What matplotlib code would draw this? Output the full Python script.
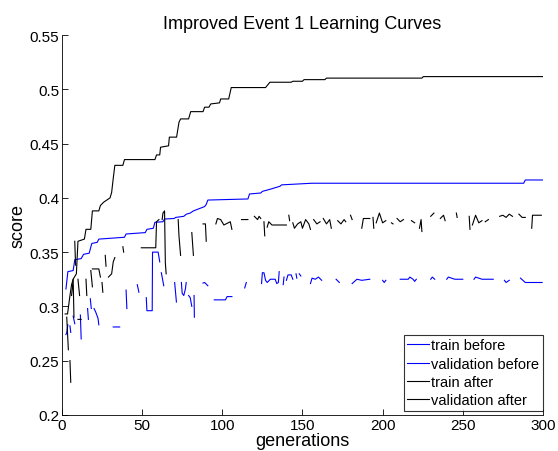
import numpy as np
import matplotlib
matplotlib.use("Agg")
import matplotlib.pyplot as plt

plt.rcParams["font.family"] = ["Liberation Sans", "DejaVu Sans"]
plt.rcParams["font.size"] = 10

# train before (blue, solid) - breakpoints (generation, score)
tb_gen = [2.5, 3.7, 7, 8, 12, 13.5, 17, 18.6, 22, 23, 39, 40, 52, 53, 57, 58,
          63, 64, 70, 71, 76, 77.6, 80, 82, 89, 90, 91, 116, 117, 124, 125,
          129, 130, 136, 137, 156, 157, 288, 289, 300]
tb_score = [0.316, 0.332, 0.333, 0.343, 0.344, 0.348, 0.349, 0.358, 0.359, 0.362,
            0.3637, 0.3667, 0.368, 0.371, 0.372, 0.3775, 0.378, 0.3805, 0.381,
            0.382, 0.383, 0.385, 0.386, 0.388, 0.392, 0.394, 0.398, 0.399,
            0.4036, 0.4045, 0.406, 0.4076, 0.408, 0.4107, 0.412, 0.4135, 0.4135,
            0.4135, 0.4165, 0.4165]

# validation before (blue, broken line, None = missing)
vb_gen = [2.5, 3, 3.7, None, 5, 5.5, None, 7, 8, None, 11.5, 12, None,
          16, 16.5, None, 17.7, 18.3, None, 20, 21, 22.5, 23, None, 32, 36, None,
          40, 40.5, None, 47, 48, None,
          52.6, 53, 56.3, 56.5, 60, 61, None, 62, 63.5, None, 70.3, 71.4, None,
          74.5, 75, 76, 77, 77.5, None, 79, 80, 81, None, 82.4, 82.6, None,
          88, 89, 91, None, 95, 102, 103, 106, None, 114, 115, None,
          124.5, 125, 126, 127, 128, 130, 133, 134, 135, 135.5, None,
          138, 138.5, None, 140, 141, 143, 144, None, 146, 146.5, None, 148, 149, None,
          155, 156, 158, 160, 162, None, 171, 173, None,
          181, 184, 187, 192, None, 200, 201, 202, None,
          211, 216, 217, 219, 220, 221, None, 230, 231, 232.5, None,
          240, 241, 243, 245, 250, None, 257, 258, 260, 262, 269, None,
          276, 277, 279, None, 286, 289, 299.5]
vb_score = [0.274, 0.276, 0.283, None, 0.282, 0.276, None, 0.291, 0.284, None, 0.292, 0.27, None,
            0.298, 0.288, None, 0.307, 0.298, None, 0.298, 0.295, 0.289, 0.283, None, 0.281, 0.281, None,
            0.315, 0.298, None, 0.32, 0.313, None,
            0.308, 0.296, 0.296, 0.35, 0.35, 0.341, None, 0.331, 0.319, None, 0.322, 0.304, None,
            0.322, 0.312, 0.31, 0.316, 0.322, None, 0.31, 0.308, 0.30, None, 0.31, 0.29, None,
            0.3215, 0.322, 0.319, None, 0.306, 0.306, 0.309, 0.309, None, 0.317, 0.322, None,
            0.321, 0.331, 0.331, 0.324, 0.322, 0.325, 0.325, 0.321, 0.322, 0.332, None,
            0.32, 0.327, None, 0.324, 0.329, 0.329, 0.325, None, 0.330, 0.326, None, 0.330, 0.328, None,
            0.321, 0.326, 0.325, 0.327, 0.324, None, 0.325, 0.322, None,
            0.321, 0.325, 0.324, 0.325, None, 0.324, 0.322, 0.324, None,
            0.325, 0.325, 0.327, 0.325, 0.323, 0.325, None, 0.325, 0.327, 0.325, None,
            0.325, 0.327, 0.326, 0.325, 0.325, None, 0.325, 0.327, 0.326, 0.325, 0.325, None,
            0.324, 0.322, 0.324, None, 0.326, 0.322, 0.322]

# train after (black, solid)
ta_gen = [2, 3.5, 5, 6, 7, 9, 10, 14, 15, 18, 19, 23, 24, 26, 28, 30, 31, 32,
          33, 38, 39, 58, 59, 61, 61.5, 66.5, 67, 71.5, 73, 74, 79, 80.3, 88,
          89, 91.7, 92.8, 98.3, 99, 104, 105.6, 127, 129.7, 143, 144, 150, 151,
          164, 165, 224.5, 225.4, 300]
ta_score = [0.293, 0.293, 0.31, 0.32, 0.325, 0.33, 0.36, 0.362, 0.371, 0.371,
            0.388, 0.388, 0.393, 0.396, 0.398, 0.40, 0.405, 0.418, 0.43, 0.43,
            0.4353, 0.4353, 0.4396, 0.4396, 0.4467, 0.448, 0.456, 0.456, 0.4697,
            0.4728, 0.4728, 0.4795, 0.4795, 0.4836, 0.4836, 0.4866, 0.4876,
            0.4912, 0.4912, 0.5017, 0.5017, 0.5066, 0.5066, 0.5075, 0.5075,
            0.509, 0.509, 0.5104, 0.5104, 0.5118, 0.5118]

# validation after (black, broken line)
va_gen = [3, 4, None, 5, 5.5, None, 6, 7, 7.5, None, 8, 8.5, None, 10, 11, None,
          10, 12, None, 15, 15.5, None, 18, 19, None, 19, 23, 24, None, 25, 25.5, None,
          27, 27.5, None, 29, 31, 32, 33, None, 38, 38.5, None,
          49.5, 58.5, 59, 60.5, None, 62.5, 63, 64, 64.5, 65, None,
          72.5, 73, 74, None, 81, 82, None, 88, 89.5, 90, None,
          96, 97, 99, 101, 105, 106, None, 112, 116, None, 120, 122, 123, 124, None,
          126, 126.5, None, 128, 129, 131, 140, None, 141.5, 142, None,
          144, 145, 147, 149, 150, 152, 154, 155, None, 157, 159, 161, None,
          163, 165, 167, 168, None, 172, 174, 176, 177, None, 180, 181, None,
          187, 188, 192, None, 194, 194.5, None, 196, 198, 200, 202, None,
          205.5, 206.5, None, 209, 211, 213, None, 218, 220, None, 223, 224, 224.5, None,
          230, 232, None, 236, 238, 239, None, 246, 246.5, None, 254, 254.5, None,
          256, 258, 260, 262, None, 264, 266, None, 273, 275, 277, 279, 281, None,
          285, 287, 289, None, 293, 293.5, 299]
va_score = [0.29, 0.26, None, 0.25, 0.23, None, 0.31, 0.325, 0.29, None, 0.36, 0.338, None, 0.325, 0.31, None,
            0.288, 0.288, None, 0.325, 0.31, None, 0.333, 0.318, None, 0.3345, 0.3345, 0.327, None, 0.322, 0.313, None,
            0.347, 0.337, None, 0.327, 0.33, 0.341, 0.345, None, 0.355, 0.35, None,
            0.354, 0.354, 0.378, 0.38, None, 0.38, 0.386, 0.388, 0.34, 0.33, None,
            0.38, 0.365, 0.347, None, 0.368, 0.347, None, 0.376, 0.376, 0.36, None,
            0.376, 0.381, 0.38, 0.375, 0.378, 0.371, None, 0.38, 0.38, None, 0.383, 0.38, 0.383, 0.381, None,
            0.378, 0.365, None, 0.373, 0.378, 0.375, 0.375, None, 0.384, 0.379, None,
            0.377, 0.372, 0.376, 0.378, 0.372, 0.38, 0.376, 0.371, None, 0.38, 0.376, 0.378, None,
            0.381, 0.376, 0.38, 0.372, None, 0.379, 0.376, 0.38, 0.378, None, 0.384, 0.38, None,
            0.372, 0.381, 0.381, None, 0.382, 0.372, None, 0.377, 0.386, 0.377, 0.379, None,
            0.377, 0.376, None, 0.381, 0.378, 0.38, None, 0.379, 0.377, None, 0.372, 0.38, 0.369, None,
            0.383, 0.386, None, 0.381, 0.384, 0.379, None, 0.386, 0.382, None, 0.383, 0.371, None,
            0.375, 0.384, 0.377, 0.379, None, 0.378, 0.38, None, 0.383, 0.384, 0.382, 0.385, 0.383, None,
            0.385, 0.382, 0.382, None, 0.372, 0.384, 0.384]

labels = ["train before", "validation before", "train after", "validation after"]


def arr(values):
    return np.array(values, dtype=float)


fig = plt.figure(figsize=(5.58, 4.52), dpi=100)
ax = fig.add_axes([0.111, 0.080, 0.862, 0.840])

ax.plot(arr(tb_gen), arr(tb_score), color="#0000ff", lw=0.8, label=labels[0])
ax.plot(arr(vb_gen), arr(vb_score), color="#0000ff", lw=0.8, label=labels[1])
ax.plot(arr(ta_gen), arr(ta_score), color="black", lw=0.8, label=labels[2])
ax.plot(arr(va_gen), arr(va_score), color="black", lw=0.8, label=labels[3])

ax.set_xlim(0, 300)
ax.set_ylim(0.2, 0.55)
ax.set_xticks(np.arange(0, 301, 50))
ax.set_yticks([0.2, 0.25, 0.3, 0.35, 0.4, 0.45, 0.5, 0.55])
ax.set_yticklabels(["0.2", "0.25", "0.3", "0.35", "0.4", "0.45", "0.5", "0.55"])
ax.tick_params(direction="in", length=4, width=0.6, labelsize=11, pad=2)
ax.spines["top"].set_visible(False)
ax.spines["right"].set_visible(False)
for s in ("left", "bottom"):
    ax.spines[s].set_linewidth(0.6)

ax.set_title("Improved Event 1 Learning Curves", fontsize=13, pad=5)
ax.set_xlabel("generations", fontsize=13, labelpad=0)
ax.set_ylabel("score", fontsize=13, labelpad=2)

leg = ax.legend(loc="lower right", bbox_to_anchor=(1.0, 0.01), borderaxespad=0,
                fontsize=10.5, frameon=True, fancybox=False, edgecolor="black",
                handlelength=1.5, handletextpad=0.15, labelspacing=0.3,
                borderpad=0.25)
leg.get_frame().set_linewidth(0.8)

fig.savefig("out.png", dpi=100)
